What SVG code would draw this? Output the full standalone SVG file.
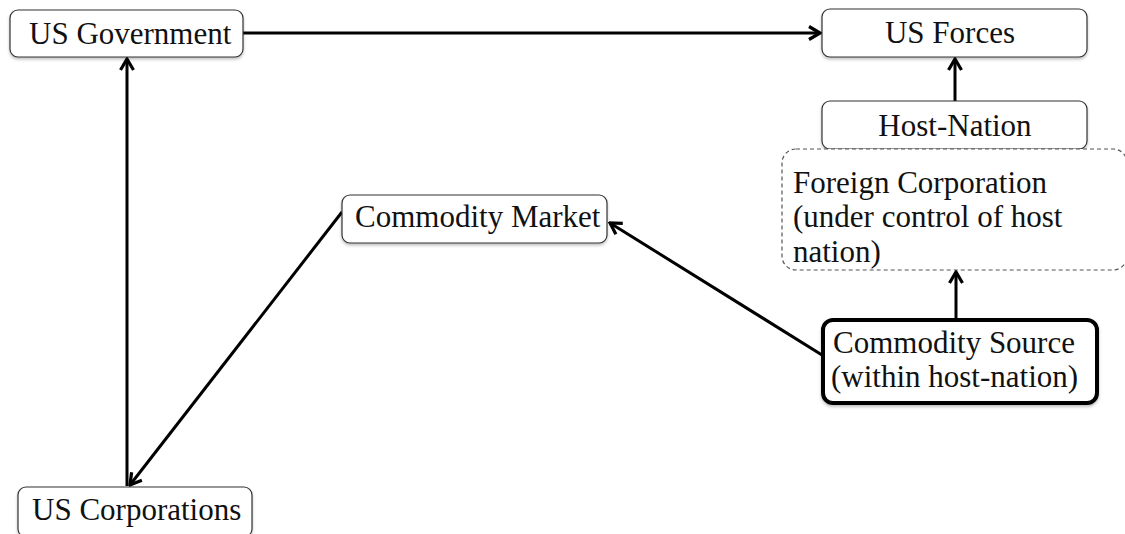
<svg xmlns="http://www.w3.org/2000/svg" width="1125" height="534" viewBox="0 0 1125 534">
<defs>
<marker id="arr" viewBox="0 0 16 16" refX="14" refY="8" markerWidth="16" markerHeight="16" markerUnits="userSpaceOnUse" orient="auto">
<path d="M3,1.5 L14,8 L3,14.5" fill="none" stroke="#000" stroke-width="3.2" stroke-linejoin="miter"/>
</marker>
<filter id="sh" x="-5%" y="-5%" width="110%" height="130%">
<feGaussianBlur in="SourceAlpha" stdDeviation="1.5"/>
<feOffset dx="0" dy="2"/>
<feComponentTransfer><feFuncA type="linear" slope="0.25"/></feComponentTransfer>
<feMerge><feMergeNode/><feMergeNode in="SourceGraphic"/></feMerge>
</filter>
</defs>
<style>
.box{fill:#fff;stroke:#333;stroke-width:1.2;filter:url(#sh)}
.bold{fill:#fff;stroke:#000;stroke-width:4;filter:url(#sh)}
.dash{fill:#fff;stroke:#555;stroke-width:1.2;stroke-dasharray:4 3}
.t{font-family:"Liberation Serif","Times New Roman",serif;font-size:31px;fill:#111}
.c{fill:none;stroke:#000;stroke-width:3}
</style>
<rect width="1125" height="534" fill="#fff"/>
<g id="connectors">
<line class="c" x1="243" y1="33" x2="820" y2="33" marker-end="url(#arr)"/>
<line class="c" x1="955" y1="101" x2="955" y2="59" marker-end="url(#arr)"/>
<line class="c" x1="956" y1="319" x2="956" y2="272" marker-end="url(#arr)"/>
<line class="c" x1="822" y1="355" x2="610" y2="223" marker-end="url(#arr)"/>
<line class="c" x1="342" y1="212" x2="130" y2="485" marker-end="url(#arr)"/>
<line class="c" x1="127" y1="486" x2="127" y2="59" marker-end="url(#arr)"/>
</g>
<g id="us-government">
<rect class="box" x="10" y="10" width="233" height="47" rx="8"/>
<text class="t" x="29" y="44">US Government</text>
</g>
<g id="us-forces">
<rect class="box" x="822" y="9" width="265" height="48" rx="8"/>
<text class="t" x="950" y="43" text-anchor="middle">US Forces</text>
</g>
<g id="host-nation">
<rect class="box" x="822" y="101" width="265" height="48" rx="8"/>
<text class="t" x="955" y="136" text-anchor="middle">Host-Nation</text>
</g>
<g id="foreign-corporation">
<rect class="dash" x="782" y="149" width="345" height="121" rx="14"/>
<text class="t" x="793" y="193">Foreign Corporation</text>
<text class="t" x="793" y="227">(under control of host</text>
<text class="t" x="793" y="262">nation)</text>
</g>
<g id="commodity-source">
<rect class="bold" x="823" y="320" width="274" height="83" rx="10"/>
<text class="t" x="833" y="353">Commodity Source</text>
<text class="t" x="831" y="387">(within host-nation)</text>
</g>
<g id="commodity-market">
<rect class="box" x="342" y="195" width="265" height="48" rx="8"/>
<text class="t" x="355" y="227">Commodity Market</text>
</g>
<g id="us-corporations">
<rect class="box" x="18" y="487" width="234" height="50" rx="8"/>
<text class="t" x="32" y="520">US Corporations</text>
</g>
</svg>
